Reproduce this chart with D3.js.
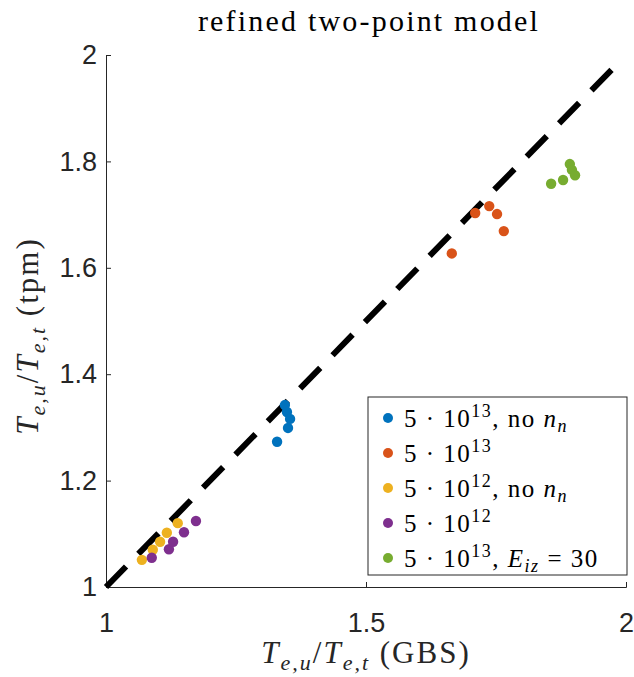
<!DOCTYPE html>
<html>
<head>
<meta charset="utf-8">
<script src="https://cdn.jsdelivr.net/npm/d3@7"></script>
<style>
  body { margin: 0; background: #fff; }
  svg { display: block; }
  .serif { font-family: "Liberation Serif", "DejaVu Serif", serif; }
</style>
</head>
<body>
<svg id="chart" width="634" height="677"></svg>
<script>
const seriesNames = ['s13noNn', 's13', 's12noNn', 's12', 's13Eiz'];
const seriesColors = ['#0072BD', '#D95319', '#EDB120', '#7E2F8E', '#77AC30'];

// x = T_e,u/T_e,t (GBS), y = T_e,u/T_e,t (tpm)
const blueX = [1.329, 1.344, 1.348, 1.354, 1.350];
const blueY = [1.273, 1.342, 1.329, 1.316, 1.299];
const orangeX = [1.665, 1.710, 1.737, 1.752, 1.765];
const orangeY = [1.627, 1.703, 1.716, 1.701, 1.669];
const yellowX = [1.069, 1.090, 1.104, 1.117, 1.138];
const yellowY = [1.051, 1.070, 1.085, 1.102, 1.120];
const purpleX = [1.088, 1.121, 1.129, 1.150, 1.173];
const purpleY = [1.055, 1.071, 1.085, 1.103, 1.124];
const greenX = [1.856, 1.879, 1.892, 1.896, 1.902];
const greenY = [1.758, 1.765, 1.795, 1.784, 1.774];

const xTicks = [1, 1.5, 2];
const yTicks = [1, 1.2, 1.4, 1.6, 1.8, 2];
const diagonal = [1, 2];

const seriesX = [blueX, orangeX, yellowX, purpleX, greenX];
const seriesY = [blueY, orangeY, yellowY, purpleY, greenY];

const svg = d3.select('#chart');

const x = d3.scaleLinear().domain([1, 2]).range([106, 626]);
const y = d3.scaleLinear().domain([1, 2]).range([587, 55]);

// Axes (MATLAB style: inward ticks)
const axisColor = '#262626';
const xAxis = svg.append('g')
    .attr('transform', `translate(0, ${y(1)})`)
    .call(d3.axisBottom(x).tickValues(xTicks).tickSize(-5).tickPadding(26)
        .tickFormat(d => d3.format('')(d)));
const yAxis = svg.append('g')
    .attr('transform', `translate(${x(1)}, 0)`)
    .call(d3.axisLeft(y).tickValues(yTicks).tickSize(-5).tickPadding(9)
        .tickFormat(d => d3.format('')(d)));

[xAxis, yAxis].forEach(a => {
    a.select('.domain').attr('stroke', axisColor).attr('stroke-width', 1);
    a.selectAll('.tick line').attr('stroke', axisColor);
    a.selectAll('.tick text')
        .style('font-family', 'Liberation Sans, Arial, sans-serif')
        .style('font-size', '27px')
        .attr('fill', axisColor);
});

// Diagonal y = x dashed line (16 dashes, ends in a gap)
const dashes = [];
for (let i = 0; i < 16; i++) dashes.push(28.7, i < 15 ? 17.6 : 60);
svg.append('line')
    .attr('x1', x(diagonal[0])).attr('y1', y(diagonal[0]))
    .attr('x2', x(diagonal[1])).attr('y2', y(diagonal[1]))
    .style('stroke', 'black')
    .style('stroke-width', 6)
    .style('stroke-dasharray', dashes.join(','));

// Points
seriesNames.forEach((name, i) => {
    const pts = seriesX[i].map((v, j) => ({x: v, y: seriesY[i][j]}));
    svg.selectAll(`.pt-${name}`)
        .data(pts)
        .join('circle')
            .classed(`pt-${name}`, true)
            .attr('cx', d => x(d.x))
            .attr('cy', d => y(d.y))
            .attr('r', 5.2)
            .style('fill', seriesColors[i]);
});

// Title
svg.append('text')
    .classed('serif', true)
    .attr('x', 369)
    .attr('y', 31)
    .attr('text-anchor', 'middle')
    .style('font-size', '30px')
    .style('letter-spacing', '2.2px')
    .text('refined two-point model');

// Math label helper: T_{e,u}/T_{e,t} (suffix)
function mathLabel(sel, suffix) {
    sel.append('tspan').style('font-style', 'italic').text('T');
    sel.append('tspan').attr('dy', 7).style('font-size', '22px').style('font-style', 'italic').text('e,u');
    sel.append('tspan').attr('dy', -7).text('/');
    sel.append('tspan').style('font-style', 'italic').text('T');
    sel.append('tspan').attr('dy', 7).style('font-size', '22px').style('font-style', 'italic').text('e,t');
    sel.append('tspan').attr('dy', -7).text('\u00a0(' + suffix + ')');
}

const xLabel = svg.append('text')
    .classed('serif', true)
    .attr('x', 366)
    .attr('y', 663)
    .attr('text-anchor', 'middle')
    .style('font-size', '31px')
    .style('letter-spacing', '2px')
    .attr('fill', axisColor);
mathLabel(xLabel, 'GBS');

const yLabel = svg.append('text')
    .classed('serif', true)
    .attr('transform', 'translate(38, 336) rotate(-90)')
    .attr('text-anchor', 'middle')
    .style('font-size', '31px')
    .style('letter-spacing', '2px')
    .attr('fill', axisColor);
mathLabel(yLabel, 'tpm');

// Legend
const legend = svg.append('g').attr('transform', 'translate(368, 397)');
legend.append('rect')
    .attr('width', 259).attr('height', 178)
    .style('fill', 'white')
    .style('stroke', axisColor)
    .style('stroke-width', 1);

const legendRows = legend.selectAll('.legendRow')
    .data(seriesNames)
    .join('g')
        .classed('legendRow', true)
        .attr('transform', (d, i) => `translate(0, ${21 + i * 35})`);

legendRows.append('circle')
    .attr('cx', 20).attr('cy', 0).attr('r', 5)
    .style('fill', (d, i) => seriesColors[i]);

const exps = ['13', '13', '12', '12', '13'];
legendRows.append('text')
    .classed('serif', true)
    .attr('x', 36)
    .attr('y', 9)
    .style('font-size', '25px')
    .style('letter-spacing', '1.5px')
    .each(function(d, i) {
        const t = d3.select(this);
        t.append('tspan').text('5 \u00b7 10');
        t.append('tspan').attr('dy', -10).style('font-size', '18px').text(exps[i]);
        if (d === 's13noNn' || d === 's12noNn') {
            t.append('tspan').attr('dy', 10).text(', no ');
            t.append('tspan').style('font-style', 'italic').text('n');
            t.append('tspan').attr('dy', 5).style('font-size', '18px').style('font-style', 'italic').text('n');
        } else if (d === 's13Eiz') {
            t.append('tspan').attr('dy', 10).text(', ');
            t.append('tspan').style('font-style', 'italic').text('E');
            t.append('tspan').attr('dy', 5).style('font-size', '18px').style('font-style', 'italic').text('iz');
            t.append('tspan').attr('dy', -5).text(' = 30');
        }
    });
</script>
</body>
</html>
